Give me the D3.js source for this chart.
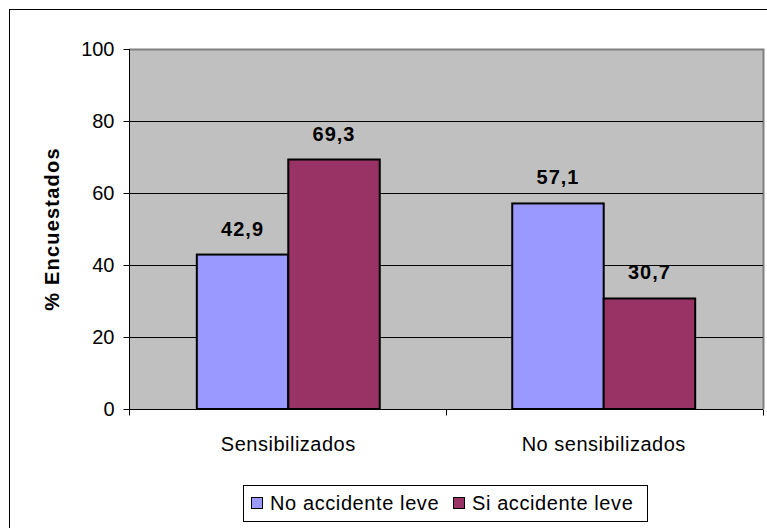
<!DOCTYPE html>
<html><head><meta charset="utf-8">
<script src="https://cdn.jsdelivr.net/npm/d3@7"></script>
<style>
body{margin:0;background:#fff;}
svg{display:block;font-family:Arial,"Liberation Sans",sans-serif;}
</style></head>
<body><svg id="c" width="767" height="528"></svg>
<script>
const categories = ["Sensibilizados", "No sensibilizados"];
const seriesNames = ["No accidente leve", "Si accidente leve"];
const noAccidente = [42.9, 57.1];
const siAccidente = [69.3, 30.7];
const yTicks = [0, 20, 40, 60, 80, 100];
const colors = ["#9999FF", "#993366"];

const svg = d3.select("#c");
const plot = {l:129, t:49, r:763, b:409};

// outer chart border
svg.append("rect").attr("x",9.5).attr("y",9.5).attr("width",800).attr("height",600)
  .attr("fill","#fff").attr("stroke","#000").attr("stroke-width",1);

const y = d3.scaleLinear().domain([0,100]).range([plot.b, plot.t]);
const x0 = d3.scaleBand().domain(categories).range([plot.l, plot.r]).paddingInner(0.42).paddingOuter(0.215);
const x1 = d3.scaleBand().domain(seriesNames).range([0, x0.bandwidth()]);

// plot area
svg.append("rect").attr("x",plot.l).attr("y",plot.t).attr("width",plot.r-plot.l).attr("height",plot.b-plot.t)
  .attr("fill","#C0C0C0");
svg.append("path").attr("d",`M${plot.l},${plot.t+0.5}H${plot.r+0.5}V${plot.b}`)
  .attr("fill","none").attr("stroke","#808080").attr("stroke-width",2);

// gridlines
svg.append("g").selectAll("line").data(yTicks.filter(d=>d>0 && d<100)).join("line")
  .attr("x1",plot.l).attr("x2",plot.r).attr("y1",d=>Math.round(y(d))+0.5).attr("y2",d=>Math.round(y(d))+0.5)
  .attr("stroke","#000").attr("stroke-width",1);

// bars
const data = categories.map((c,i)=>({cat:c, vals:[noAccidente[i], siAccidente[i]]}));
const groups = svg.append("g").selectAll("g").data(data).join("g")
  .attr("transform",d=>`translate(${x0(d.cat)},0)`);
groups.selectAll("rect").data(d=>d.vals.map((v,j)=>({v, s:seriesNames[j], j}))).join("rect")
  .attr("x",d=>x1(d.s)).attr("width",x1.bandwidth())
  .attr("y",d=>y(d.v)).attr("height",d=>y(0)-y(d.v))
  .attr("fill",d=>colors[d.j]).attr("stroke","#000").attr("stroke-width",2);
groups.selectAll("text").data(d=>d.vals.map((v,j)=>({v, s:seriesNames[j], j}))).join("text")
  .attr("x",d=>x1(d.s)+x1.bandwidth()/2).attr("y",d=>y(d.v)-19)
  .attr("text-anchor","middle").attr("font-weight","bold").attr("font-size",20).attr("letter-spacing",1)
  .text(d=>d3.format(".1f")(d.v).replace(".",","));

// y axis
const yAxis = d3.axisLeft(y).tickValues(yTicks).tickSize(6).tickPadding(9);
const gy = svg.append("g").attr("transform",`translate(${plot.l+0.5},0)`).call(yAxis);
gy.select(".domain").attr("stroke","#000").attr("d",`M0,${plot.t}V${plot.b}`);
gy.selectAll(".tick line").attr("stroke","#000");
gy.selectAll(".tick text").attr("font-size",20).attr("fill","#000").attr("font-family","Arial,'Liberation Sans',sans-serif");

// x axis
const xAxis = d3.axisBottom(x0).tickSize(0).tickPadding(27);
const gx = svg.append("g").attr("transform",`translate(0,${plot.b+0.5})`).call(xAxis);
gx.select(".domain").attr("stroke","#000").attr("d",`M${plot.l},0H${plot.r}`);
gx.selectAll(".tick text").attr("font-size",20).attr("letter-spacing",0.5).attr("fill","#000").attr("font-family","Arial,'Liberation Sans',sans-serif");
// boundary ticks
gx.selectAll(".bt").data([plot.l, (plot.l+plot.r)/2, plot.r]).join("line").attr("class","bt")
  .attr("x1",d=>Math.round(d)+0.5).attr("x2",d=>Math.round(d)+0.5).attr("y1",0).attr("y2",6).attr("stroke","#000");

// y title
svg.append("text").attr("transform",`translate(59,${(plot.t+plot.b)/2}) rotate(-90)`)
  .attr("text-anchor","middle").attr("font-weight","bold").attr("font-size",20).attr("letter-spacing",1.2)
  .text("% Encuestados");

// legend
const lg = svg.append("g");
lg.append("rect").attr("x",243.5).attr("y",485.5).attr("width",404).attr("height",36).attr("fill","#fff").attr("stroke","#000");
const lx = [251, 453];
seriesNames.forEach((s,i)=>{
  lg.append("rect").attr("x",lx[i]+0.5).attr("y",497.5).attr("width",11).attr("height",11).attr("fill",colors[i]).attr("stroke","#000");
  lg.append("text").attr("x",lx[i]+19).attr("y",510).attr("font-size",20).attr("letter-spacing",0.6).text(s);
});
</script></body></html>
